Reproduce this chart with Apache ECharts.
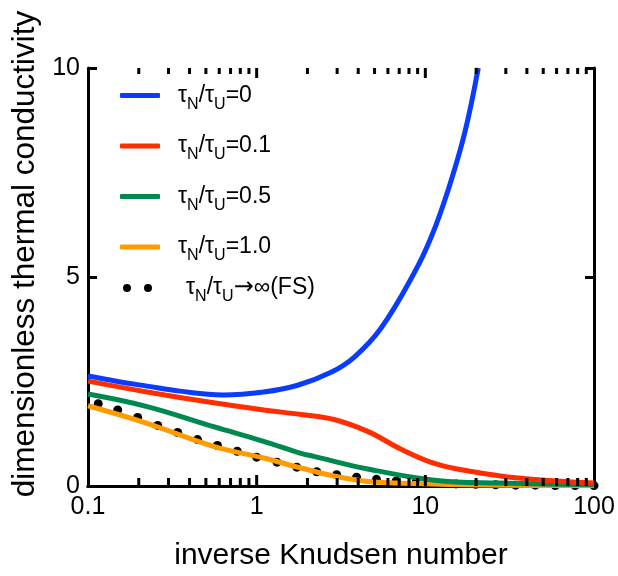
<!DOCTYPE html>
<html>
<head>
<meta charset="utf-8">
<script src="https://cdn.jsdelivr.net/npm/echarts@6/dist/echarts.min.js"></script>
<style>
  html, body { margin: 0; padding: 0; background: #fff; }
  #main { width: 618px; height: 576px; }
</style>
</head>
<body>
<div id="main"></div>
<script>
// values (x = inverse Knudsen number, y = dimensionless conductivity)
var blueX = [0.1, 0.15, 0.224, 0.35, 0.63, 1.1, 1.75, 2.76, 3.78, 5.47, 8.6, 10.9, 13.7, 17.1, 20.6];
var blueY = [2.63, 2.5, 2.39, 2.27, 2.18, 2.25, 2.41, 2.72, 3.08, 3.78, 5.1, 5.98, 7.1, 8.44, 10.0];

var redX = [0.1, 0.224, 0.555, 1.1, 1.83, 2.87, 4.58, 7.19, 11.3, 18, 35.8, 100];
var redY = [2.51, 2.25, 1.99, 1.82, 1.71, 1.59, 1.3, 0.88, 0.54, 0.36, 0.19, 0.07];

var greenX = [0.1, 0.224, 0.555, 1.1, 1.83, 2.18, 4.4, 11.3, 28, 100];
var greenY = [2.2, 1.9, 1.42, 1.07, 0.78, 0.71, 0.42, 0.14, 0.07, 0.03];

var orangeX = [0.1, 0.224, 0.555, 1.1, 1.83, 2.87, 4.57, 11, 30, 100];
var orangeY = [1.92, 1.5, 0.95, 0.67, 0.43, 0.24, 0.11, 0.05, 0.02, 0.01];

// free-streaming (FS) dots
var fsX = [0.115, 0.15, 0.197, 0.259, 0.34, 0.446, 0.585, 0.767, 1.0, 1.32, 1.73, 2.27, 2.98,
           3.91, 5.13, 6.72, 8.81, 11.6, 15.2, 19.9, 26.1, 34.3, 44.9, 58.9, 77.3, 100];
var fsY = [1.97, 1.82, 1.64, 1.45, 1.28, 1.11, 0.97, 0.83, 0.69, 0.57, 0.45, 0.34, 0.27,
           0.21, 0.16, 0.12, 0.09, 0.06, 0.05, 0.04, 0.03, 0.02, 0.02, 0.01, 0.01, 0.01];

// log ticks: decades and 2..9 in each decade
var xMajorTicks = [1, 10];
var xMinorTicks = [0.2, 0.3, 0.4, 0.5, 0.6, 0.7, 0.8, 0.9, 2, 3, 4, 5, 6, 7, 8, 9,
                   20, 30, 40, 50, 60, 70, 80, 90];

var seriesNames = ['τN/τU=0', 'τN/τU=0.1', 'τN/τU=0.5', 'τN/τU=1.0', 'τN/τU→∞(FS)'];

function zip(xs, ys) {
  return xs.map(function (x, i) { return [x, ys[i]]; });
}

var FONT = 'Liberation Sans';

// τ_N/τ_U label with subscripts
function legendLabel(name) {
  var rest = name.slice(5);
  if (rest.charAt(0) === '→') {
    return '{a|τ}{s|N}{a|/τ}{s|U}{r|→}{a|' + rest.slice(1) + '}';
  }
  return '{a|τ}{s|N}{a|/τ}{s|U}{a|' + rest + '}';
}
var legendRich = {
  a: { fontFamily: FONT, fontSize: 23, color: '#000', lineHeight: 30 },
  s: { fontFamily: FONT, fontSize: 16, color: '#000', padding: [18, 0, 0, 0] },
  r: { fontFamily: 'DejaVu Sans', fontSize: 24, color: '#000', lineHeight: 30 }
};

var axisBlack = { color: '#000', width: 3 };

function lineSeries(name, xs, ys, color) {
  return {
    name: name,
    type: 'line',
    smooth: 0.4,
    showSymbol: false,
    data: zip(xs, ys),
    lineStyle: { color: color, width: 5 },
    itemStyle: { color: color }
  };
}

// x ticks on one frame side, pointing into the plot
function tickSeries(ticks, yValue, dir, len) {
  return {
    type: 'custom',
    silent: true,
    clip: false,
    z: 10,
    data: ticks.map(function (v) { return [v, yValue]; }),
    renderItem: function (params, api) {
      var p = api.coord([api.value(0), yValue]);
      return {
        type: 'line',
        shape: { x1: p[0], y1: p[1], x2: p[0], y2: p[1] + dir * len },
        style: { stroke: '#000', lineWidth: 3 }
      };
    }
  };
}

var option = {
  animation: false,
  backgroundColor: '#fff',
  grid: { left: 88, right: 24, top: 68, bottom: 86 },
  legend: [
    {
      data: seriesNames.slice(0, 4),
      orient: 'vertical',
      left: 120,
      top: 84,
      padding: 0,
      itemGap: 22,
      itemWidth: 40,
      itemHeight: 5,
      icon: 'roundRect',
      formatter: legendLabel,
      textStyle: { rich: legendRich, padding: [0, 0, 0, 13] }
    },
    {
      data: [seriesNames[4]],
      orient: 'vertical',
      left: 123,
      top: 276,
      padding: 0,
      itemWidth: 29,
      itemHeight: 8,
      icon: 'path://M0,4a4,4 0 1,0 8,0a4,4 0 1,0 -8,0zM21,4a4,4 0 1,0 8,0a4,4 0 1,0 -8,0z',
      formatter: legendLabel,
      textStyle: { rich: legendRich, padding: [0, 0, 0, 29] }
    }
  ],
  xAxis: [
    {
      type: 'log',
      logBase: 10,
      min: 0.1,
      max: 100,
      position: 'bottom',
      name: 'inverse Knudsen number',
      nameLocation: 'middle',
      nameGap: 55,
      nameTextStyle: { fontFamily: FONT, fontSize: 30, color: '#000' },
      axisLine: { show: true, lineStyle: axisBlack },
      axisTick: { show: false },
      axisLabel: { fontFamily: FONT, fontSize: 25, color: '#000', margin: 9 },
      splitLine: { show: false }
    },
    {
      type: 'log',
      logBase: 10,
      min: 0.1,
      max: 100,
      position: 'top',
      axisLine: { show: true, lineStyle: axisBlack },
      axisTick: { show: false },
      axisLabel: { show: false },
      splitLine: { show: false }
    }
  ],
  yAxis: [
    {
      type: 'value',
      min: 0,
      max: 10,
      interval: 5,
      position: 'left',
      name: 'dimensionless thermal conductivity',
      nameLocation: 'middle',
      nameGap: 42,
      nameTextStyle: { fontFamily: FONT, fontSize: 31.5, color: '#000', padding: [0, 0, 0, 46] },
      axisLine: { show: true, lineStyle: axisBlack },
      axisTick: { inside: true, length: 9, lineStyle: axisBlack },
      axisLabel: { fontFamily: FONT, fontSize: 25, color: '#000', margin: 8 },
      splitLine: { show: false }
    },
    {
      type: 'value',
      min: 0,
      max: 10,
      interval: 5,
      position: 'right',
      axisLine: { show: true, lineStyle: axisBlack },
      axisTick: { inside: true, length: 9, lineStyle: axisBlack },
      axisLabel: { show: false },
      splitLine: { show: false }
    }
  ],
  // drawing order: dots at the bottom, blue on top
  series: [
    {
      name: seriesNames[4],
      type: 'scatter',
      data: zip(fsX, fsY),
      symbolSize: 9,
      itemStyle: { color: '#000', opacity: 1 }
    },
    lineSeries(seriesNames[3], orangeX, orangeY, '#FF9A00'),
    lineSeries(seriesNames[2], greenX, greenY, '#00894F'),
    lineSeries(seriesNames[1], redX, redY, '#FF2D00'),
    lineSeries(seriesNames[0], blueX, blueY, '#0A3CFF'),
    tickSeries(xMinorTicks, 0, -1, 8),
    tickSeries(xMajorTicks, 0, -1, 11),
    tickSeries(xMinorTicks, 10, 1, 6),
    tickSeries(xMajorTicks, 10, 1, 10)
  ]
};

var myChart = echarts.init(document.getElementById('main'), null, { renderer: 'canvas' });
myChart.setOption(option);
</script>
</body>
</html>
